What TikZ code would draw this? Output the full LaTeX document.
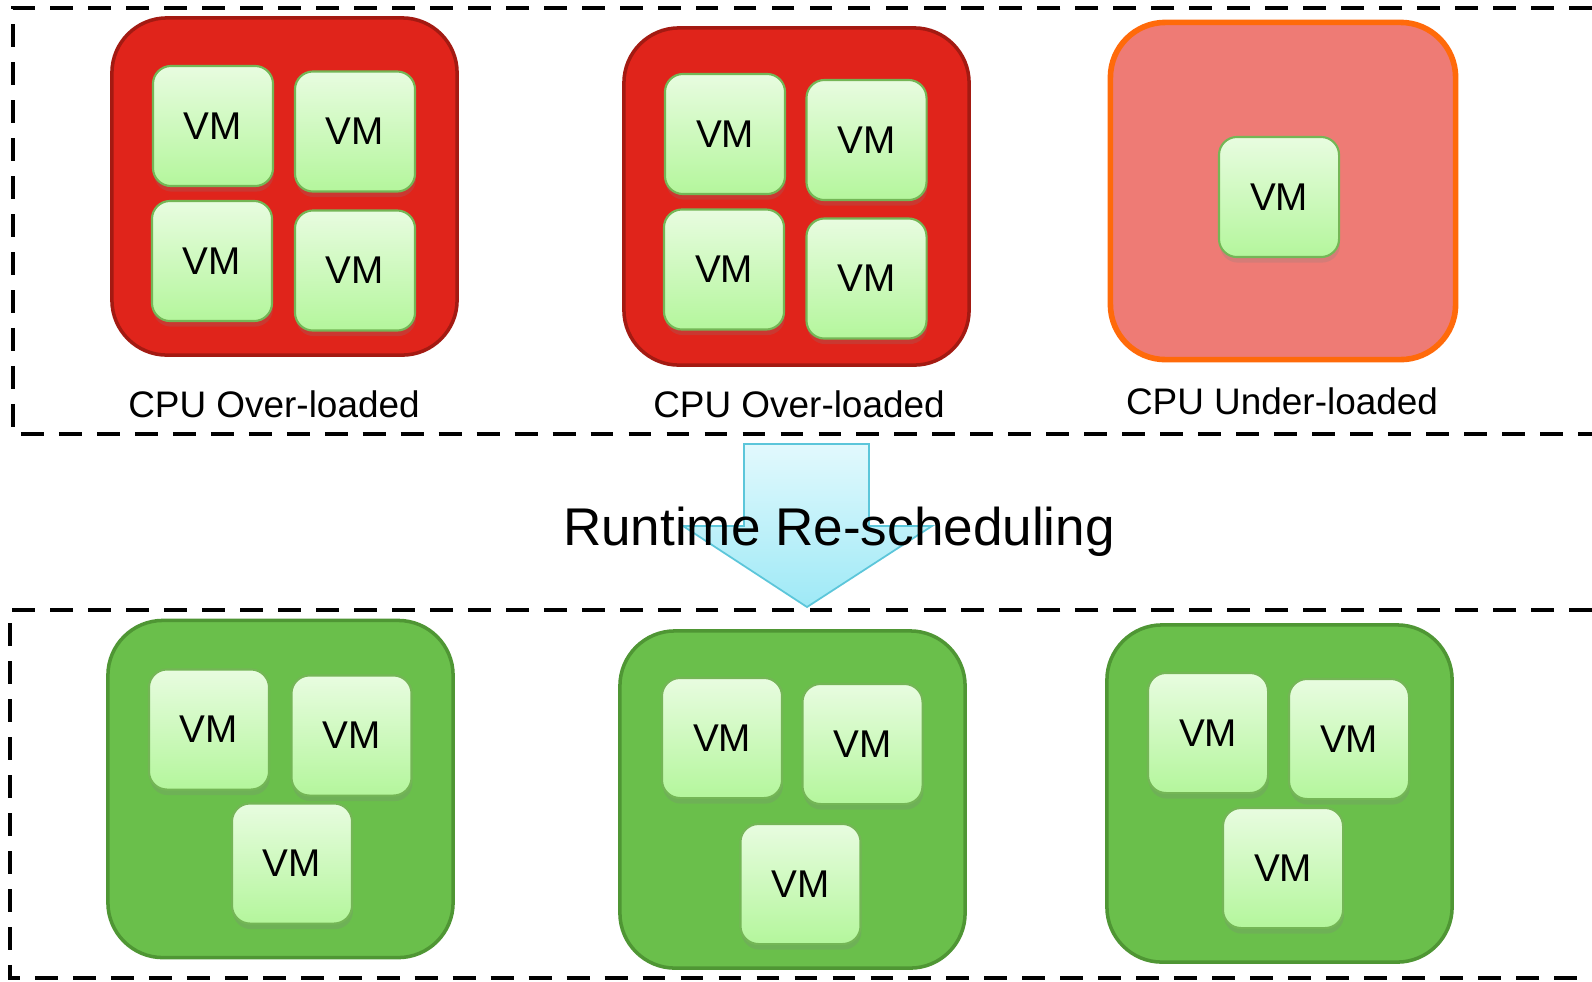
\documentclass[tikz,border=0pt]{standalone}
\usepackage{fontspec}
\setmainfont{Liberation Sans}
\usetikzlibrary{shadows}
\definecolor{rot}{HTML}{E0241B}
\definecolor{rotd}{HTML}{A31A12}
\definecolor{lachs}{HTML}{EE7B75}
\definecolor{orng}{HTML}{FF6A0A}
\definecolor{gruen}{HTML}{6ABF4B}
\definecolor{gruend}{HTML}{4F9634}
\definecolor{vmhell}{HTML}{E8FCE0}
\definecolor{vmdunkel}{HTML}{B4F69C}
\definecolor{vmrand}{HTML}{74B656}
\definecolor{pfeilh}{HTML}{E2F9FD}
\definecolor{pfeild}{HTML}{9EE9F6}
\definecolor{pfeilr}{HTML}{5CC6DA}
\tikzset{
  vm/.style={draw=vmrand,line width=0.6pt,rounded corners=0.18cm,minimum size=1.2cm,
    top color=vmhell,bottom color=vmdunkel,
    drop shadow={opacity=0.22,shadow xshift=0.05ex,shadow yshift=-0.3ex},
    font=\fontsize{11}{13}\selectfont},
  host/.style={rounded corners=0.55cm,minimum width=3.45cm,minimum height=3.37cm,line width=1pt},
  voll/.style={host,fill=rot,draw=rotd},
  leer/.style={host,fill=lachs,draw=orng,line width=1.6pt},
  ok/.style={host,fill=gruen,draw=gruend},
  rahmen/.style={black,line width=1.1pt,dash pattern=on 6.5pt off 4.3pt},
  lbl/.style={anchor=base,font=\fontsize{10.5}{12}\selectfont},
  pfeil/.style={draw=pfeilr,line width=0.5pt,top color=pfeilh,bottom color=pfeild},
}
\begin{document}
\begin{tikzpicture}[x=0.01cm,y=-0.01cm]
  \useasboundingbox (0,0) rectangle (1592,981);
  \fill[white] (0,0) rectangle (1592,981);
  % dashed frames
  \draw[rahmen] (1592,8) -- (13,8) -- (13,434) -- (1592,434);
  \draw[rahmen] (1592,610) -- (10,610) -- (10,978) -- (1592,978);
  % before
  \node[voll] (h1) at (284.5,186.5) {};
  \node[voll] (h2) at (796.5,196.5) {};
  \node[leer] (h3) at (1283,191) {};
  \node[vm] (h1a) at (213,126) {VM};   \node[vm] (h1b) at (355,131.5) {VM};
  \node[vm] (h1c) at (212,261) {VM};   \node[vm] (h1d) at (355,270.5) {VM};
  \node[vm] (h2a) at (725,134) {VM};   \node[vm] (h2b) at (866.5,140) {VM};
  \node[vm] (h2c) at (724,269.5) {VM}; \node[vm] (h2d) at (866.5,278.5) {VM};
  \node[vm] (h3a) at (1279,197) {VM};
  \node[lbl] (l1) at (274,417) {CPU Over-loaded};
  \node[lbl] (l2) at (799,417) {CPU Over-loaded};
  \node[lbl] (l3) at (1282,414) {CPU Under-loaded};
  % re-scheduling
  \draw[pfeil] (744,444) -- (869,444) -- (869,526) -- (932,526) -- (807,607)
    -- (683,526) -- (744,526) -- cycle;
  \node[anchor=base,font=\fontsize{15.1}{18}\selectfont] (rs) at (839,545) {Runtime Re-scheduling};
  % after
  \node[ok] (g1) at (280.5,789) {};
  \node[ok] (g2) at (792.5,799.5) {};
  \node[ok] (g3) at (1279.5,793.5) {};
  \node[vm] (g1a) at (209,729.5) {VM};  \node[vm] (g1b) at (351.5,735.5) {VM};
  \node[vm] (g1c) at (292,863.5) {VM};
  \node[vm] (g2a) at (722,738) {VM};    \node[vm] (g2b) at (862.5,744) {VM};
  \node[vm] (g2c) at (800.5,884) {VM};
  \node[vm] (g3a) at (1208,733) {VM};   \node[vm] (g3b) at (1349,739) {VM};
  \node[vm] (g3c) at (1283,868) {VM};
\end{tikzpicture}
\end{document}
